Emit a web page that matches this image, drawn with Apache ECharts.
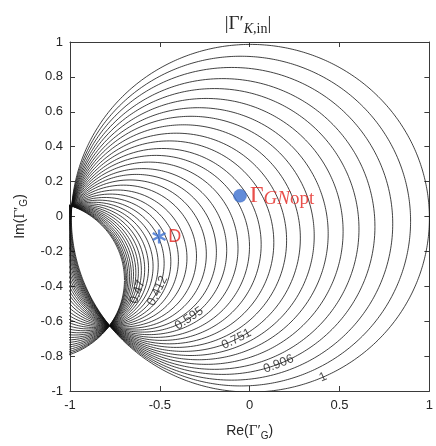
<!DOCTYPE html>
<html><head><meta charset="utf-8">
<script src="https://cdn.jsdelivr.net/npm/echarts@6/dist/echarts.min.js"></script>
<style>html,body{margin:0;padding:0;background:#fff}#c{width:436px;height:446px}</style>
</head><body><div id="c"></div>
<script>
// ---- data ----
// the two points every contour circle passes through (Re, Im)
const pinchA = [-0.99, 0.06];
const pinchB = [-0.78, -0.625];
// where each contour circle crosses the Re axis (Im = 0), outermost first
const contourReIntercepts = [1.0, 0.895, 0.795, 0.695, 0.605, 0.515, 0.43, 0.35, 0.27, 0.19,
  0.115, 0.04, -0.03, -0.10, -0.17, -0.235, -0.30, -0.365, -0.43, -0.49,
  -0.545, -0.595, -0.64, -0.68, -0.715, -0.745, -0.77, -0.792, -0.81, -0.826,
  -0.84, -0.851, -0.861, -0.869, -0.875, -0.88];
// contour labels and the approximate point where each sits
const contourLabelTexts = ['1', '0.906', '0.751', '0.595', '0.412', '0.47'];
const contourLabelRe = [0.405, 0.157, -0.082, -0.33, -0.515, -0.63];
const contourLabelIm = [-0.915, -0.837, -0.688, -0.594, -0.425, -0.43];
// marked points
const pointD = [-0.504, -0.115];
const pointGNopt = [-0.054, 0.119];
const xTicks = [-1, -0.5, 0, 0.5, 1];
const yTicks = [-1, -0.8, -0.6, -0.4, -0.2, 0, 0.2, 0.4, 0.6, 0.8, 1];

// ---- geometry helpers ----
function circle3(p1, p2, p3) {
  const ax = p1[0], ay = p1[1], bx = p2[0], by = p2[1], cx = p3[0], cy = p3[1];
  const d = 2 * (ax * (by - cy) + bx * (cy - ay) + cx * (ay - by));
  const a2 = ax * ax + ay * ay, b2 = bx * bx + by * by, c2 = cx * cx + cy * cy;
  const ux = (a2 * (by - cy) + b2 * (cy - ay) + c2 * (ay - by)) / d;
  const uy = (a2 * (cx - bx) + b2 * (ax - cx) + c2 * (bx - ax)) / d;
  return { cx: ux, cy: uy, r: Math.hypot(ax - ux, ay - uy) };
}
const circles = contourReIntercepts.map(x0 => circle3(pinchA, pinchB, [x0, 0]));

const N = 1440;
const contourSeries = circles.map((c, i) => {
  const pts = [];
  for (let k = 0; k <= N; k++) {
    const a = 2 * Math.PI * k / N;
    pts.push([c.cx + c.r * Math.cos(a), c.cy + c.r * Math.sin(a)]);
  }
  return {
    type: 'line', data: pts, showSymbol: false, symbol: 'none', clip: true, silent: true,
    lineStyle: { color: '#111', width: 0.8 }, z: 2
  };
});

// labels: snap to nearest contour, rotate along its tangent
const labelData = contourLabelTexts.map((t, i) => {
  const p = [contourLabelRe[i], contourLabelIm[i]];
  let best = circles[0], bd = 1e9;
  circles.forEach(c => {
    const dd = Math.abs(Math.hypot(p[0] - c.cx, p[1] - c.cy) - c.r);
    if (dd < bd) { bd = dd; best = c; }
  });
  const ang = Math.atan2(p[1] - best.cy, p[0] - best.cx);
  const q = [best.cx + best.r * Math.cos(ang), best.cy + best.r * Math.sin(ang)];
  let rot = (ang + Math.PI / 2) * 180 / Math.PI;
  while (rot > 90) rot -= 180;
  while (rot <= -90) rot += 180;
  return { value: q, label: { show: true, formatter: t, rotate: rot } };
});

const asteriskPath = (function () {
  const L = 10, W = 1.7; let s = '';
  [90, 30, 150].forEach(deg => {
    const a = deg * Math.PI / 180, dx = Math.cos(a), dy = -Math.sin(a), nx = -dy, ny = dx;
    const p = [[L * dx + W * nx, L * dy + W * ny], [L * dx - W * nx, L * dy - W * ny],
      [-L * dx - W * nx, -L * dy - W * ny], [-L * dx + W * nx, -L * dy + W * ny]];
    s += 'M' + p.map(v => v[0].toFixed(2) + ',' + v[1].toFixed(2)).join('L') + 'Z';
  });
  return 'path://' + s;
})();

const axisColor = '#3a3a3a';
const sans = 'Liberation Sans, Arial, Helvetica, sans-serif';
const serif = 'Liberation Serif, Times New Roman, serif';
const red = '#e3231e';
const blue = '#3b6fd0';

function baseX(pos, showLabel) {
  return {
    type: 'value', position: pos, min: -1, max: 1, interval: 0.5,
    axisLine: { show: true, onZero: false, lineStyle: { color: axisColor, width: 1 } },
    axisTick: { show: true, inside: true, length: 5, lineStyle: { color: axisColor } },
    axisLabel: { show: showLabel, color: '#262626', fontSize: 13, fontFamily: sans, margin: 8,
      formatter: v => xTicks.includes(+v.toFixed(2)) ? String(+v.toFixed(2)) : '' },
    splitLine: { show: false }
  };
}
function baseY(pos, showLabel) {
  return {
    type: 'value', position: pos, min: -1, max: 1, interval: 0.2,
    axisLine: { show: true, onZero: false, lineStyle: { color: axisColor, width: 1 } },
    axisTick: { show: true, inside: true, length: 5, lineStyle: { color: axisColor } },
    axisLabel: { show: showLabel, color: '#262626', fontSize: 13, fontFamily: sans, margin: 7,
      formatter: v => { const r = +v.toFixed(2); return yTicks.includes(r) ? String(r) : ''; } },
    splitLine: { show: false }
  };
}
const nameRich = {
  a: { fontFamily: sans, fontSize: 14, color: '#262626', lineHeight: 20 },
  g: { fontFamily: serif, fontSize: 15, color: '#262626', lineHeight: 20 },
  s: { fontFamily: sans, fontSize: 10, color: '#262626', lineHeight: 8, verticalAlign: 'bottom' } };
const xb = baseX('bottom', true);
xb.name = '{a|Re(}{g|Γ′}{s|G}{a|)}';
xb.nameLocation = 'middle';
xb.nameGap = 30;
xb.nameTextStyle = { rich: nameRich };
const yl = baseY('left', true);
yl.name = '{a|Im(}{g|Γ′}{s|G}{a|)}';
yl.nameLocation = 'middle';
yl.nameGap = 40;
yl.nameRotate = 90;
yl.nameTextStyle = { rich: nameRich };

const option = {
  animation: false,
  backgroundColor: '#fff',
  title: {
    text: '{a||Γ′}{s|K}{t|,in}{a||}',
    left: 243, top: 7, textAlign: 'center',
    textStyle: { fontWeight: 'normal', rich: {
      a: { fontFamily: serif, fontSize: 19, fontWeight: 'normal', color: '#262626', lineHeight: 24 },
      s: { fontFamily: serif, fontSize: 14, fontWeight: 'normal', fontStyle: 'italic', color: '#262626', lineHeight: 10, verticalAlign: 'bottom' },
      t: { fontFamily: serif, fontSize: 14, fontWeight: 'normal', color: '#262626', lineHeight: 10, verticalAlign: 'bottom' } } }
  },
  grid: { left: 70, right: 3, top: 42, bottom: 49, containLabel: false },
  xAxis: [xb, baseX('top', false)],
  yAxis: [yl, baseY('right', false)],
  series: contourSeries.concat([
    {
      type: 'scatter', data: labelData, symbolSize: 0, silent: true, z: 5,
      label: { show: true, position: 'inside', color: '#1a1a1a', fontSize: 12.5, fontFamily: sans }
    },
    {
      type: 'scatter', data: [pointD], symbol: asteriskPath, symbolSize: 14, silent: true, z: 6,
      itemStyle: { color: blue },
      label: { show: true, position: 'right', distance: 2, formatter: 'D', color: red, fontSize: 18, fontFamily: sans }
    },
    {
      type: 'scatter', data: [pointGNopt], symbol: 'circle', symbolSize: 13, silent: true, z: 6,
      itemStyle: { color: blue, borderColor: '#2f5fb8', borderWidth: 0.5 },
      label: { show: true, position: 'right', distance: 3, formatter: '{g|Γ}{s|GN}{o|opt}',
        rich: {
          g: { fontFamily: serif, fontSize: 24, color: red, lineHeight: 26 },
          s: { fontFamily: serif, fontSize: 19, fontStyle: 'italic', color: red, lineHeight: 12, verticalAlign: 'bottom' },
          o: { fontFamily: serif, fontSize: 19, color: red, lineHeight: 12, verticalAlign: 'bottom' } } }
    }
  ])
};
const chart = echarts.init(document.getElementById('c'), null, { renderer: 'canvas' });
chart.setOption(option);
</script></body></html>
